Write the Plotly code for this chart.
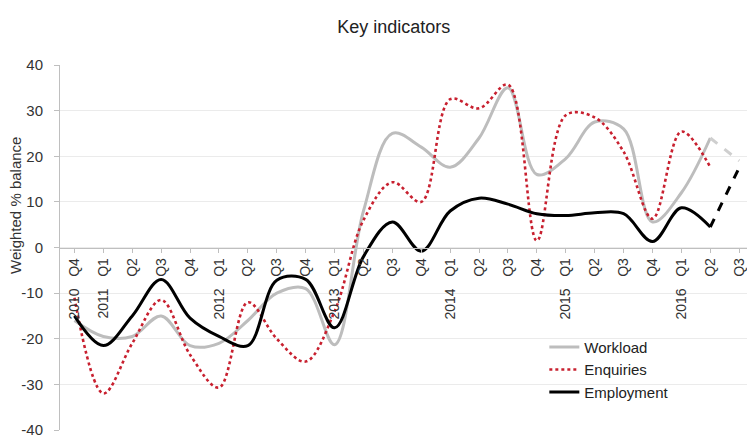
import plotly.graph_objects as go

NB = "\u00a0"
categories = ["2010" + NB*3 + "Q4",
              "2011" + NB*3 + "Q1", "Q2", "Q3", "Q4",
              "2012" + NB*3 + "Q1", "Q2", "Q3", "Q4",
              "2013" + NB*3 + "Q1", "Q2", "Q3", "Q4",
              "2014" + NB*3 + "Q1", "Q2", "Q3", "Q4",
              "2015" + NB*3 + "Q1", "Q2", "Q3", "Q4",
              "2016" + NB*3 + "Q1", "Q2", "Q3"]

y_ticks = [-40, -30, -20, -10, 0, 10, 20, 30, 40]
y_tick_labels = ["-40", "-30", "-20", "-10", "0", "10", "20", "30", "40"]

workload = [-16, -19.5, -19.5, -15, -21.5, -21, -16, -10, -9, -21.3, 8, 25, 22, 17.6,
            24, 35, 16, 19.5, 27.5, 26, 5.6, 12, 24, None]
workload_forecast = [None] * 22 + [24, 19]

enquiries = [-11, -32, -21, -11.5, -23.5, -30.7, -12, -20, -25, -14, 6, 14.3, 10, 32.5,
             30.5, 35.7, 1.5, 29, 28.5, 21, 6.3, 25.4, 17.6, None]

employment = [-15, -21.5, -15, -7, -15.5, -19.5, -21.5, -7.2, -7, -17.6, -2, 5.6, -0.8, 8,
              10.8, 9.5, 7.4, 7, 7.6, 7.4, 1.3, 8.7, 4.5, None]
employment_forecast = [None] * 22 + [4.5, 17.5]

x = list(range(len(categories)))

fig = go.Figure()
fig.add_trace(go.Scatter(x=x, y=workload, name="Workload", mode="lines",
                         line=dict(color="#BDBDBD", width=3, shape="spline", smoothing=1.0)))
fig.add_trace(go.Scatter(x=x, y=enquiries, name="Enquiries", mode="lines",
                         line=dict(color="#C8202F", width=2.6, dash="dot", shape="spline", smoothing=1.0)))
fig.add_trace(go.Scatter(x=x, y=employment, name="Employment", mode="lines",
                         line=dict(color="#000000", width=3, shape="spline", smoothing=1.0)))
fig.add_trace(go.Scatter(x=x, y=workload_forecast, mode="lines", showlegend=False,
                         line=dict(color="#CFCFCF", width=3, dash="dash")))
fig.add_trace(go.Scatter(x=x, y=employment_forecast, mode="lines", showlegend=False,
                         line=dict(color="#000000", width=3, dash="dash")))

fig.update_layout(
    width=747, height=438,
    margin=dict(l=60, r=0, t=65, b=5),
    paper_bgcolor="white", plot_bgcolor="white",
    font=dict(family="Liberation Sans, Arial, sans-serif", color="#333333"),
    title=dict(text="Key indicators", x=0.527, xanchor="center", y=1 - 27 / 438, yanchor="middle",
               font=dict(size=18, color="#222222")),
    showlegend=True,
    legend=dict(x=0.705, y=0.272, xanchor="left", yanchor="top", bgcolor="rgba(0,0,0,0)",
                font=dict(size=15, color="#222222"), itemwidth=30, tracegroupgap=0),
    xaxis=dict(
        tickmode="array", tickvals=x, ticktext=categories,
        range=[-0.5, 23.27], anchor="free", position=0.5,
        showline=True, linecolor="#BFBFBF", linewidth=1,
        ticks="outside", ticklen=4, tickcolor="#BFBFBF",
        tickangle=-90, tickfont=dict(size=14, color="#333333"),
        ticklabeloverflow="allow",
        showgrid=False, zeroline=False,
    ),
    yaxis=dict(
        range=[-40, 40], tickmode="array", tickvals=y_ticks, ticktext=y_tick_labels,
        showline=True, linecolor="#BFBFBF", linewidth=1,
        ticks="outside", ticklen=5, tickcolor="#BFBFBF",
        tickfont=dict(size=15, color="#333333"), ticklabelstandoff=8,
        ticklabeloverflow="allow",
        showgrid=True, gridcolor="#EBEBEB", gridwidth=1, zeroline=False,
    ),
    annotations=[dict(text="Weighted % balance", textangle=-90, xref="paper", yref="paper",
                      x=0, xshift=-44, y=0.614, xanchor="center", yanchor="middle",
                      showarrow=False, font=dict(size=15, color="#333333"))],
)

fig.write_html("out.html", config={"displayModeBar": False},
               post_script="document.body.style.margin='0';document.body.style.padding='0';")
